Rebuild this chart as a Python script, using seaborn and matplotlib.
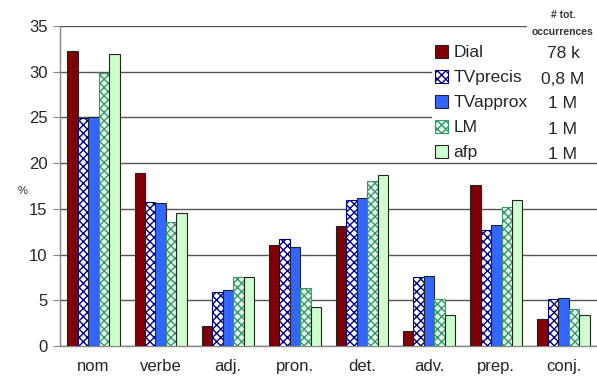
import numpy as np
import pandas as pd
import matplotlib
matplotlib.use("Agg")
import matplotlib.pyplot as plt
from matplotlib.patches import Rectangle
import seaborn as sns

categories = ["nom", "verbe", "adj.", "pron.", "det.", "adv.", "prep.", "conj."]
series = ["Dial", "TVprecis", "TVapprox", "LM", "afp"]
totals = ["78 k", "0,8 M", "1 M", "1 M", "1 M"]

dial = [32.3, 18.9, 2.2, 11.1, 13.1, 1.6, 17.6, 3.0]
tvprecis = [24.9, 15.8, 5.9, 11.7, 16.0, 7.5, 12.7, 5.1]
tvapprox = [25.1, 15.6, 6.1, 10.8, 16.2, 7.7, 13.2, 5.2]
lm = [29.9, 13.6, 7.6, 6.3, 18.1, 5.1, 15.2, 4.1]
afp = [31.9, 14.6, 7.5, 4.3, 18.7, 3.4, 16.0, 3.4]

rows = []
for name, vals in zip(series, [dial, tvprecis, tvapprox, lm, afp]):
    for cat, v in zip(categories, vals):
        rows.append({"cat": cat, "serie": name, "pct": v})
df = pd.DataFrame(rows)

face = {"Dial": "#800000", "TVprecis": "white", "TVapprox": "#3366ff",
        "LM": "#e8f8ee", "afp": "#ccffcc"}
hatch_col = {"TVprecis": "#000080", "LM": "#339966"}

sns.set_style("white")
plt.rcParams["font.family"] = ["Liberation Sans", "DejaVu Sans"]

fig = plt.figure(figsize=(5.97, 3.77), dpi=100)
ax = fig.add_axes([0.1005, 0.0822, 0.8995, 0.8488])

sns.barplot(data=df, x="cat", y="pct", hue="serie", order=categories,
            hue_order=series, palette=face, saturation=1, width=0.78, gap=0,
            edgecolor="black", linewidth=0.8, legend=False, ax=ax, zorder=3)

for name, cont in zip(series, ax.containers):
    for p in cont.patches:
        if name in hatch_col:
            p.set_hatch("xxxx")
            p.set_edgecolor(hatch_col[name])
        else:
            p.set_edgecolor("#222222")

ax.set_ylim(0, 35)
ax.set_xlim(-0.5, len(categories) - 0.5)
ax.set_yticks(range(0, 36, 5))
ax.yaxis.grid(True, color="#555555", linewidth=1, zorder=0)
ax.set_axisbelow(True)

ax.set_xticks(np.arange(-0.5, len(categories), 1), minor=True)
ax.tick_params(axis="x", which="major", length=0, labelsize=12, pad=9)
ax.tick_params(axis="x", which="minor", length=5, color="#888888", direction="out")
ax.tick_params(axis="y", length=5, color="#888888", direction="out", labelsize=12, pad=4,
               left=True)
for s in ["top", "right"]:
    ax.spines[s].set_visible(False)
for s in ["left", "bottom"]:
    ax.spines[s].set_color("#888888")
    ax.spines[s].set_linewidth(1)
ax.set_xlabel("")
ax.set_ylabel("%", rotation=0, fontsize=8)
ax.yaxis.set_label_coords(-0.07, 0.47)

# white block behind legend and totals column
for (x0, y0, w, h) in [(432, 161, 165, 122), (527, 40, 70, 30)]:
    ax.add_patch(Rectangle((x0 / 597, 1 - y0 / 377), w / 597, h / 377,
                           transform=fig.transFigure, facecolor="white",
                           edgecolor="none", zorder=4, clip_on=False))

leg = ax.legend(handles=list(ax.containers), labels=series, loc="upper left",
                bbox_to_anchor=(435 / 597, 1 - 45 / 377),
                bbox_transform=fig.transFigure, frameon=False, fontsize=12.5,
                handlelength=0.75, handleheight=0.75, handletextpad=0.3,
                labelspacing=0.55, borderpad=0, borderaxespad=0)
leg.set_zorder(5)

fig.text(563 / 597, 1 - 15 / 377, "# tot.", ha="center", va="center",
         fontsize=7.5, fontweight="bold", color="#333333", zorder=6)
fig.text(563 / 597, 1 - 32 / 377, "occurrences", ha="center", va="center",
         fontsize=7.5, fontweight="bold", color="#333333", zorder=6)
row_y = [53, 79, 104, 129, 154]
for y, t in zip(row_y, totals):
    fig.text(563 / 597, 1 - y / 377, t, ha="center", va="center", fontsize=12.5, zorder=6)

fig.savefig("out.png", dpi=100)
